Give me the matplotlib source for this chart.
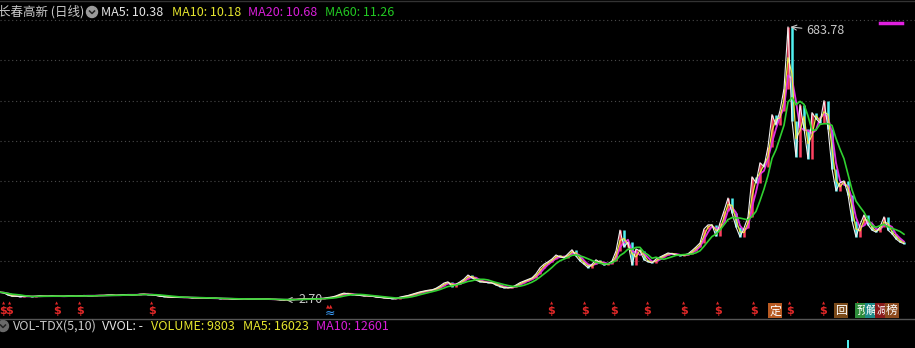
import numpy as np
import pandas as pd
import matplotlib
matplotlib.use('Agg')
import matplotlib.pyplot as plt
from matplotlib.patches import Circle

plt.rcParams['font.family'] = ['Noto Sans CJK SC', 'DejaVu Sans']

# daily close, one sample every ~4 px of the original chart
close = [
    22, 20, 15, 12, 12, 11, 12, 12, 11, 12, 13, 12, 12, 13, 12, 12, 12, 13, 13, 12, 13, 14, 13, 13, 14, 14,
    14, 15, 15, 14, 15, 16, 16, 15, 16, 17, 17, 16, 15, 14, 12, 11, 10, 10, 10, 9, 9, 9, 8, 8, 8,
    8, 7, 7, 7, 6, 6, 6, 5, 5, 5, 6, 5, 5, 5, 5, 5, 5, 4, 4, 3, 2.70, 4, 4, 4, 5,
    5, 5, 6, 6, 6, 7, 9, 10, 13, 17, 20, 18, 16, 15, 14, 13, 13, 12, 10, 9, 8, 7, 6, 6, 10,
    12, 14, 17, 20, 23, 25, 27, 28, 32, 38, 45, 48, 36, 42, 48, 55, 65, 58, 52, 48, 47, 46, 45, 40, 36,
    33, 33, 35, 40, 46, 50, 54, 58, 68, 83, 92, 98, 105, 115, 110, 108, 118, 128, 112, 100, 92, 83, 92, 103, 96,
    90, 93, 100, 125, 177, 135, 147, 90, 130, 125, 103, 98, 95, 105, 110, 115, 120, 118, 115, 113, 115, 118, 126, 135, 145,
    180, 190, 190, 162, 195, 225, 257, 220, 185, 160, 182, 210, 310, 295, 345, 335, 385, 465, 440, 475, 530, 683.78, 450, 360, 490,
    430, 355, 470, 455, 444, 500, 430, 330, 275, 295, 300, 265, 200, 160, 190, 215, 190, 177, 172, 185, 210, 177, 168, 155, 147, 143,
]

grid_levels = [100, 200, 300, 400, 500, 600, 700]

# event icons along the bottom of the price panel (sample index)
dollar_idx = [0.8, 2.3, 14.2, 20.0, 38.0, 137.8, 146.2, 153.5, 161.8, 171.0, 179.5, 188.5, 197.5, 205.8, 214.5]
box_idx = [193.8, 215.5, 218.0, 220.5, 223.0]
box_text = ['定', '预', '解', '减', '榜']
box_colors = ['#b85a22', '#2e8b3a', '#1f8a88', '#8a1a1a', '#8c4a1e']
box2_idx = [210.2]
box2_text = ['回']

top_labels = ['长春高新 (日线)', 'MA5: 10.38', 'MA10: 10.18', 'MA20: 10.68', 'MA60: 11.26']
top_x = [-2, 101, 172, 248, 325]
top_colors = ['#c8c8c8', '#e6e6e6', '#e6e62e', '#d81ed8', '#22c822']

vol_labels = ['VOL-TDX(5,10)', 'VVOL: -', 'VOLUME: 9803', 'MA5: 16023', 'MA10: 12601']
vol_x = [13, 102, 151, 243, 316]
vol_colors = ['#c8c8c8', '#e6e6e6', '#e6e62e', '#e6e62e', '#d81ed8']

vol_idx = [212]
vol_vals = [9803]

W, H = 915, 348


def px_rect(x0, y0, x1, y1):
    return [x0 / W, 1 - y1 / H, (x1 - x0) / W, (y1 - y0) / H]


fig = plt.figure(figsize=(W / 100, H / 100), dpi=100, facecolor='black')

ax = fig.add_axes(px_rect(0, 8, W, 318))
ax.set_facecolor('black')
ax.set_xlim(0, W / 4)
ax.set_ylim(-42.2, 730.9)
ax.set_xticks([])
ax.set_yticks([])
for s in ax.spines.values():
    s.set_visible(False)
for g in grid_levels:
    ax.axhline(g, color='#4a4a4a', lw=0.8, ls=(0, (1, 2.5)), zorder=0)

c = pd.Series(close)
x = np.arange(len(c))
ma5 = c
ma10 = c.rolling(2, min_periods=1).mean()
ma20 = c.rolling(3, min_periods=1).mean()
ma60 = c.rolling(6, min_periods=1).mean()

# small candle bodies between consecutive closes
up = c.diff().fillna(0) >= 0
cols = np.where(up, '#ff4060', '#50f0f0')
ax.vlines(x[1:], c.values[:-1], c.values[1:], colors=cols[1:], lw=1.8, zorder=2)

ax.plot(x, ma20, color='#e030e0', lw=1.3, zorder=3)
ax.plot(x, ma10, color='#e8e840', lw=0.9, zorder=4)
ax.plot(x, ma5, color='#f0f0f0', lw=0.8, zorder=5)
ax.plot(x, ma60, color='#30d030', lw=1.2, zorder=6)

imax = int(c.idxmax())
ax.annotate(f'{c[imax]:.2f}', xy=(imax + 0.6, c[imax]), xytext=(imax + 4.5, c[imax] - 10),
            color='#c8c8c8', fontsize=9, va='center',
            arrowprops=dict(arrowstyle='->', color='#c8c8c8', lw=0.8, shrinkA=1, shrinkB=0))
imin = int(c.idxmin())
ax.annotate(f'{c[imin]:.2f}', xy=(imin + 0.5, c[imin]), xytext=(imin + 3.6, c[imin]),
            color='#c8c8c8', fontsize=9, va='center',
            arrowprops=dict(arrowstyle='->', color='#c8c8c8', lw=0.8, shrinkA=1, shrinkB=0))

tr = ax.get_xaxis_transform()
for d in dollar_idx:
    ax.text(d, 0.021, '$', transform=tr, color='#e02828', fontsize=8, fontweight='bold',
            ha='center', va='center', family='DejaVu Sans', zorder=7)
    ax.text(d, 0.048, '▲', transform=tr, color='#e02828', fontsize=3,
            ha='center', va='center', family='DejaVu Sans', zorder=7)
# wave icon near the low
ax.text(82.5, 0.040, '▲▲', transform=tr, color='#e02828', fontsize=3.5, ha='center', va='center',
        family='DejaVu Sans')
ax.text(82.5, 0.014, '≈', transform=tr, color='#3aa0ff', fontsize=9, ha='center', va='center',
        family='DejaVu Sans')

for bx, bt, bc in zip(box_idx, box_text, box_colors):
    ax.text(bx, 0.023, bt, transform=tr, color='white', fontsize=8.5, ha='center', va='center', zorder=8,
            bbox=dict(boxstyle='square,pad=0.08', fc=bc, ec='none'))
for bx, bt in zip(box2_idx, box2_text):
    ax.text(bx, 0.023, bt, transform=tr, color='white', fontsize=8.5, ha='center', va='center', zorder=8,
            bbox=dict(boxstyle='square,pad=0.08', fc='#7a4a1a', ec='none'))

# volume panel (only the tip of one bar is visible)
vax = fig.add_axes(px_rect(0, 319, W, H))
vax.set_facecolor('black')
vax.set_xlim(0, W / 4)
vax.set_ylim(0, 35500)
vax.axis('off')
vax.bar(vol_idx, vol_vals, width=0.3, color='#50f0f0')

# decorations in pixel space
deco = fig.add_axes([0, 0, 1, 1])
deco.set_xlim(0, W)
deco.set_ylim(H, 0)
deco.axis('off')
deco.patch.set_alpha(0)

deco.plot([0, W], [0.5, 0.5], color='#333333', lw=1)
deco.plot([0, W], [318.5, 318.5], color='#555555', lw=1)
deco.plot([880, 902], [23, 23], color='#e020e0', lw=2.5)

for tx, tl, tc in zip(top_x, top_labels, top_colors):
    deco.text(tx, 12, tl, color=tc, fontsize=9, ha='left', va='center')
deco.add_patch(Circle((92, 12), 5.5, color='#9a9a9a'))
deco.plot([89.5, 92, 94.5], [11, 13.5, 11], color='#222222', lw=1.1)

for tx, tl, tc in zip(vol_x, vol_labels, vol_colors):
    deco.text(tx, 326, tl, color=tc, fontsize=9, ha='left', va='center')
deco.add_patch(Circle((3, 326), 5.5, color='#6a6a6a'))
deco.plot([0.5, 3, 5.5], [325, 327.5, 325], color='#222222', lw=1.1)

fig.savefig('out.png', dpi=100, facecolor='black')
